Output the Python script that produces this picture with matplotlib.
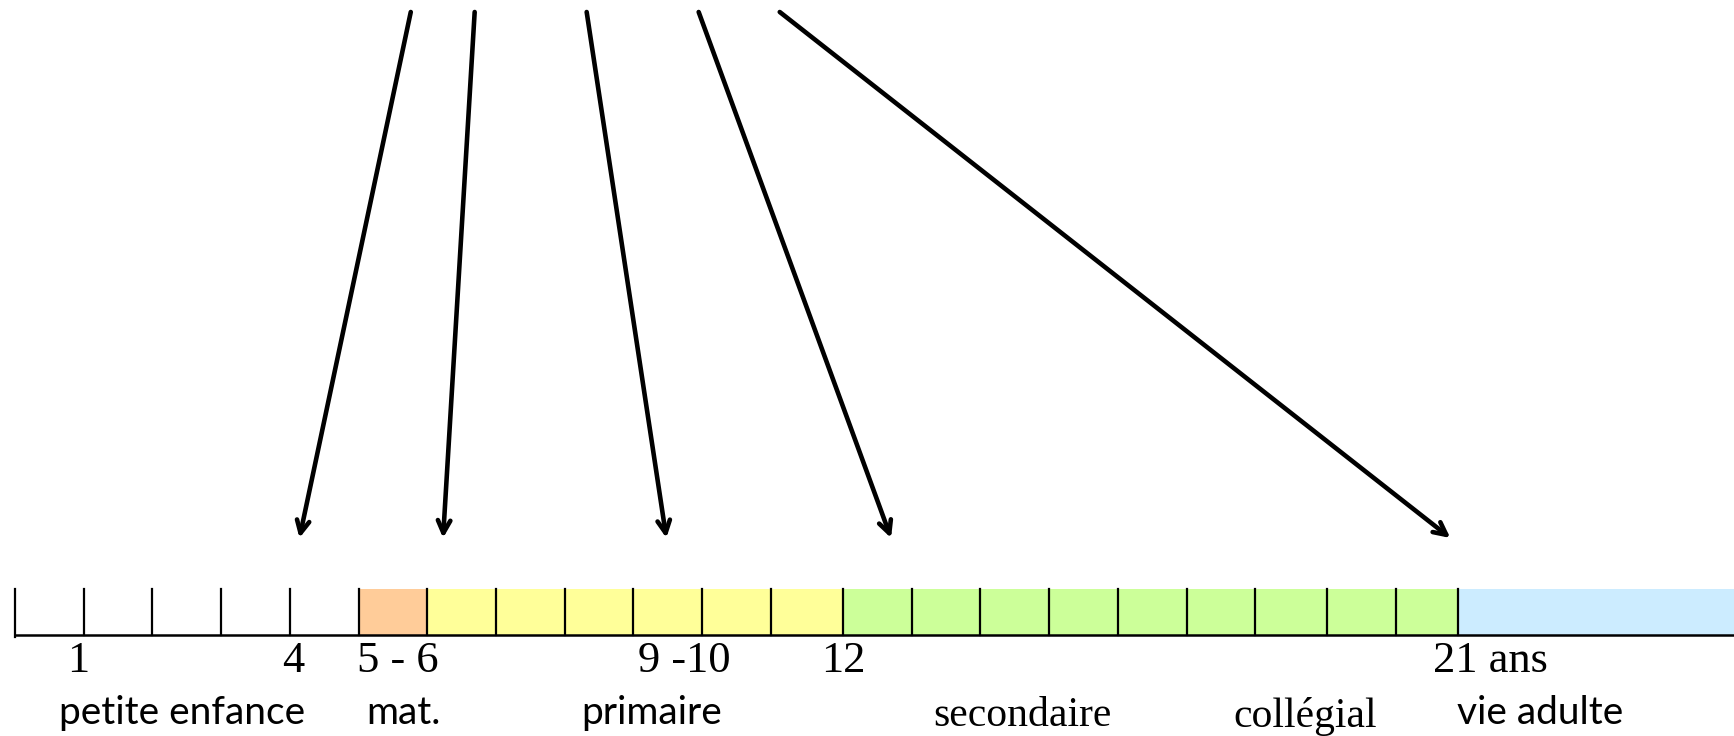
import matplotlib
matplotlib.use("Agg")
from matplotlib import pyplot as plt
from matplotlib.patches import Rectangle

# stages of life (age in years)
stage_start = [5, 6, 12.05, 21]
stage_end = [6, 12.05, 21, 25.02]
stage_colors = ['#FFCC99', '#FFFF99', '#CCFF99', '#CCECFF']

year_ticks = [0, 1, 2, 3, 4, 5, 6, 7, 8, 9, 10, 11, 12.05, 13.05, 14.05, 15.05,
              16.05, 17.05, 18.05, 19.1, 20.1, 21]

age_labels = ['1', '4', '5 - 6', '9 -10', '12', '21 ans']
age_label_x = [0.92, 4.05, 5.57, 9.74, 12.05, 21.48]

stage_names = ['petite enfance', 'mat.', 'primaire', 'secondaire', 'collégial', 'vie adulte']
stage_name_x = [2.43, 5.66, 9.26, 14.66, 18.78, 22.2]
stage_serif = [False, False, False, True, True, False]

# arrows: from age (at the top) to age (on the line)
arrow_from = [5.76, 6.69, 8.32, 9.95, 11.13]
arrow_to = [4.14, 6.23, 9.48, 12.75, 20.89]

fig = plt.figure(figsize=(17.34, 7.36), dpi=100)
ax = fig.add_axes([0, 0, 1, 1])
ax.set_xlim(-15 / 68.71, 1719 / 68.71)
ax.set_ylim(736, 0)
ax.axis('off')

bar_top, bar_bot = 589, 635

for s, e, c in zip(stage_start, stage_end, stage_colors):
    ax.add_patch(Rectangle((s, bar_top), e - s, bar_bot - bar_top, facecolor=c, edgecolor='none'))

ax.plot([0, 25.02], [bar_bot, bar_bot], color='black', lw=1.8)
for t in year_ticks:
    ax.plot([t, t], [bar_top, bar_bot + (2 if t == 0 else 0)], color='black', lw=1.6)

for lab, x in zip(age_labels, age_label_x):
    ax.text(x, 661, lab, ha='center', va='center', fontsize=32, family='Liberation Serif')

for lab, x, serif in zip(stage_names, stage_name_x, stage_serif):
    if serif:
        ax.text(x, 716, lab, ha='center', va='center', fontsize=30, family='Liberation Serif')
    else:
        ax.text(x, 713, lab, ha='center', va='center', fontsize=28, family='Lato')

for a, b in zip(arrow_from, arrow_to):
    ax.annotate('', xy=(b, 538), xytext=(a, 12),
                arrowprops=dict(arrowstyle='->,head_length=0.9,head_width=0.45',
                                color='black', lw=3.3, shrinkA=0, shrinkB=0))

fig.savefig('out.png', dpi=100)
